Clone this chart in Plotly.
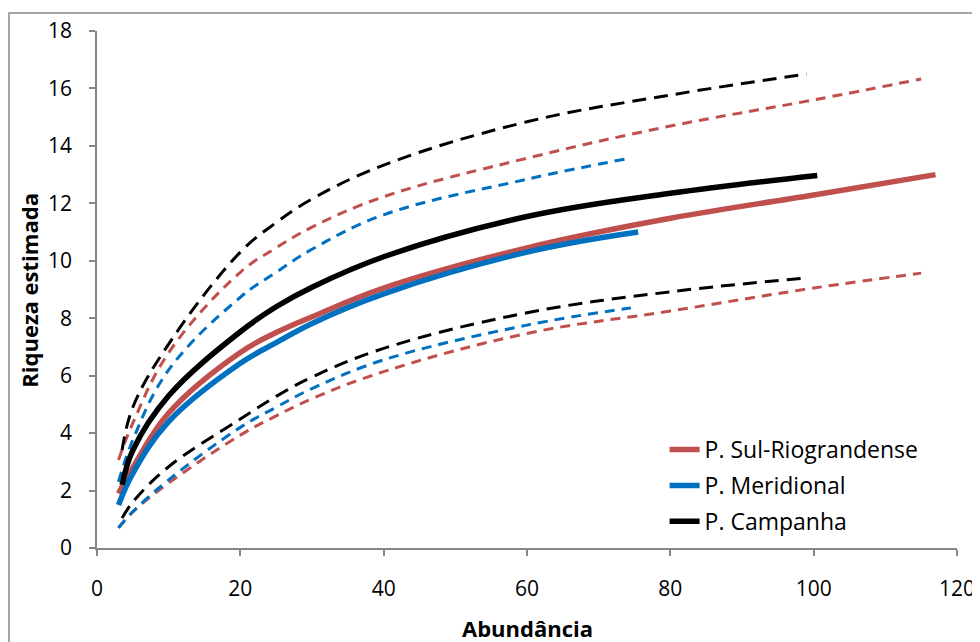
import plotly.graph_objects as go

# --- data ---
sul_x = [3, 5, 10, 20, 25, 30, 40, 60, 80, 100, 117]
sul_mean = [1.9, 2.8, 4.7, 6.81, 7.5, 8.05, 9.05, 10.45, 11.48, 12.29, 13.0]
sul_up_x = [3, 5, 10, 20, 25, 30, 40, 60, 80, 100, 115]
sul_upper = [3.06, 4.35, 6.8, 9.6, 10.45, 11.17, 12.23, 13.57, 14.69, 15.6, 16.33]
sul_lower = [0.7, 1.26, 2.26, 3.93, 4.6, 5.2, 6.14, 7.47, 8.25, 9.05, 9.57]

mer_x = [3, 5, 10, 20, 25, 30, 40, 60, 75.5]
mer_mean = [1.5, 2.6, 4.4, 6.43, 7.15, 7.82, 8.85, 10.3, 11.0]
mer_up_x = [3, 5, 10, 20, 25, 30, 40, 60, 74.5]
mer_upper = [2.3, 3.76, 6.2, 8.73, 9.6, 10.4, 11.6, 12.84, 13.58]
mer_lower = [0.7, 1.26, 2.37, 4.2, 4.9, 5.55, 6.55, 7.76, 8.36]

cam_x = [3.5, 5, 10, 20, 25, 30, 40, 60, 80, 100.5]
cam_mean = [2.2, 3.4, 5.3, 7.53, 8.4, 9.08, 10.14, 11.54, 12.35, 12.97]
cam_up_x = [3.5, 5, 10, 20, 25, 30, 40, 60, 80, 99]
cam_upper = [3.4, 4.9, 7.1, 10.3, 11.33, 12.15, 13.33, 14.84, 15.77, 16.5]
cam_lower = [1.04, 1.6, 2.83, 4.49, 5.28, 5.95, 6.95, 8.19, 8.92, 9.4]

names = ["P. Sul-Riograndense", "P. Meridional", "P. Campanha"]
x_ticks = [0, 20, 40, 60, 80, 100, 120]
y_ticks = [0, 2, 4, 6, 8, 10, 12, 14, 16, 18]

RED = "#C0504D"
BLUE = "#0070C0"
BLACK = "#000000"
FONT = "Open Sans"
FS = 23
FS_TICK = 21
FS_TITLE = 22

fig = go.Figure()

series = [
    (names[0], RED, sul_x, sul_mean, sul_up_x, sul_upper, sul_lower, "10px,7px"),
    (names[1], BLUE, mer_x, mer_mean, mer_up_x, mer_upper, mer_lower, "10px,7px"),
    (names[2], BLACK, cam_x, cam_mean, cam_up_x, cam_upper, cam_lower, "14px,8px"),
]

# dashed bounds first (behind)
for name, col, x, m, ux, up, lo, dash in series:
    for yy in (up, lo):
        fig.add_trace(go.Scatter(x=ux, y=yy, mode="lines", showlegend=False,
                                 line=dict(color=col, width=3, dash=dash, shape="spline", smoothing=1.1),
                                 hoverinfo="skip"))

for i, (name, col, x, m, ux, up, lo, dash) in enumerate(series):
    fig.add_trace(go.Scatter(x=x, y=m, mode="lines", name=name, legendgroup=f"g{i}",
                             line=dict(color=col, width=5.5, shape="spline", smoothing=1.1)))

axis_common = dict(showgrid=False, zeroline=False, automargin=False,
                   showline=True, linecolor="#868686", linewidth=1.5,
                   ticks="outside", ticklen=6, tickcolor="#868686", tickwidth=1.5,
                   tickfont=dict(family=FONT, size=FS_TICK, color="black"))

# page body has an 8px margin: figure is shrunk/offset so the plot lands where the reference has it
fig.update_layout(
    width=972, height=634,
    margin=dict(l=89, r=23, t=23, b=94, autoexpand=False),
    paper_bgcolor="white", plot_bgcolor="white",
    font=dict(family=FONT, size=FS, color="black"),
    showlegend=True,
    legend=dict(x=0.66, y=0.232, xanchor="left", yanchor="top",
                bgcolor="rgba(0,0,0,0)", font=dict(family=FONT, size=FS),
                tracegroupgap=3),
    xaxis=dict(range=[0, 120], tickvals=x_ticks, ticklabelstandoff=15, **axis_common),
    yaxis=dict(range=[0, 18], tickvals=y_ticks, ticklabelstandoff=13, **axis_common),
    annotations=[
        dict(text="<b>Abundância</b>", xref="paper", yref="paper", x=0.5, y=-0.155,
             xanchor="center", yanchor="middle", showarrow=False,
             font=dict(family=FONT, size=FS_TITLE)),
        dict(text="<b>Riqueza estimada</b>", xref="paper", yref="paper", x=-0.08, y=0.498,
             xanchor="center", yanchor="middle", showarrow=False, textangle=-90,
             font=dict(family=FONT, size=FS_TITLE)),
    ],
    shapes=[dict(type="rect", xref="paper", yref="paper",
                 x0=-0.1023, x1=1.05, y0=-0.25, y1=1.0348,
                 line=dict(color="#868686", width=1.5), fillcolor="rgba(0,0,0,0)", layer="below")],
)

fig.write_html("out.html")
